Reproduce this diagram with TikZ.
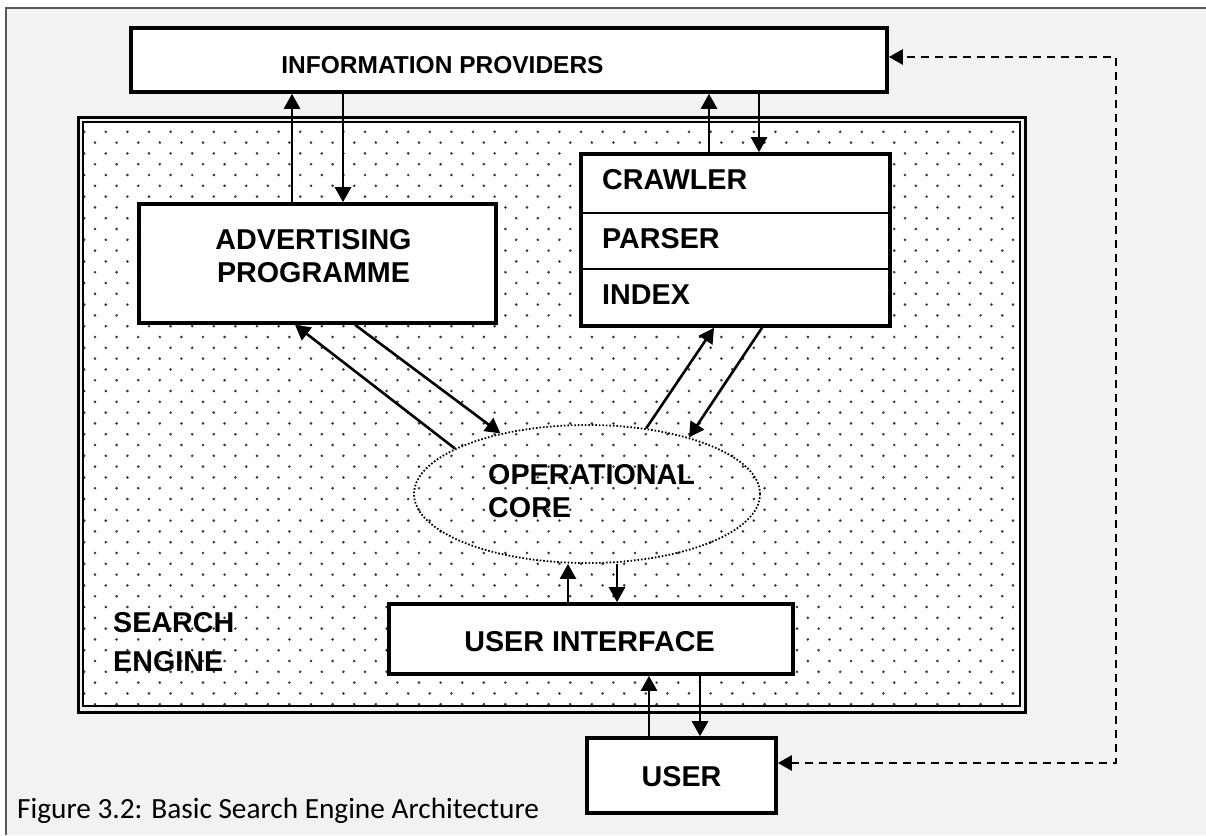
\documentclass[tikz,border=0pt]{standalone}
\usepackage{fontspec}
\setmainfont{Liberation Sans}
\newfontfamily\capfont{Carlito}
\usetikzlibrary{arrows.meta,shapes.geometric}
\definecolor{bgray}{HTML}{F2F2F2}
\definecolor{framec}{HTML}{595959}
\definecolor{dotc}{HTML}{3A3A3A}
\begin{document}
\begin{tikzpicture}[x=1pt,y=-1pt,
  box/.style={draw, line width=3.6pt, fill=white, inner sep=0pt},
  lab/.style={font=\bfseries\fontsize{28.7}{33}\selectfont, inner sep=0pt},
  arr/.style={line width=2.6pt, -{Triangle[length=15pt,width=16pt]}},
  dashline/.style={line width=2.4pt, dash pattern=on 8pt off 6pt, {Triangle[length=14pt,width=15pt]}-{Triangle[length=14pt,width=15pt]}},
  corestyle/.style={draw, ellipse, line width=1.8pt, dash pattern=on 1.6pt off 1.9pt, inner sep=0pt},
]
\useasboundingbox (0,0) rectangle (1206,835);
% page background and outer frame
\fill[white] (0,0) rectangle (1206,835);
\fill[bgray] (6,8) rectangle (1206,835);
\draw[framec, line width=1.8pt] (6,835) -- (6,8) -- (1206,8);

% search engine area
\fill[white] (83,122) rectangle (1020,706);
\begin{scope}
  \clip (83,122) rectangle (1020,706);
  \foreach \k in {0,...,54} {
    \pgfmathsetmacro\yy{121+10.8*\k}
    \pgfmathsetmacro\xo{mod(\k,2)==0 ? 95 : 84.2}
    \foreach \j in {0,...,43} {
      \fill[dotc] (\xo+21.6*\j,\yy) circle (1.45pt);
    }
  }
\end{scope}
\draw[line width=3pt] (78,117) rectangle (1025,712);
\draw[line width=2pt] (83,122) rectangle (1020,706);

% boxes
\node[box, minimum width=756pt, minimum height=64pt] (info) at (509,60) {};
\node[lab, font=\bfseries\fontsize{24.5}{28}\selectfont] (infot) at (442.5,65) {INFORMATION PROVIDERS};

\node[box, minimum width=357pt, minimum height=119pt] (adv) at (317.5,263.5) {};
\node[lab, align=center] (advt) at (313.5,256.5) {ADVERTISING\\PROGRAMME};

\node[box, minimum width=309pt, minimum height=172pt] (crawl) at (735.5,240) {};
\draw[line width=2pt, shorten <=1.8pt, shorten >=1.8pt] (crawl.west |- 0,213) -- (crawl.east |- 0,213);
\draw[line width=2pt, shorten <=1.8pt, shorten >=1.8pt] (crawl.west |- 0,269) -- (crawl.east |- 0,269);
\node[lab, anchor=west] (crt) at (602,180) {CRAWLER};
\node[lab, anchor=west] (pat) at (602,239) {PARSER};
\node[lab, anchor=west] (ixt) at (602,295) {INDEX};

\node[corestyle, minimum width=346pt, minimum height=138pt] (core) at (587,494) {};
\node[lab, anchor=west, align=left] (coret) at (488,491.5) {OPERATIONAL\\CORE};

\node[lab, anchor=west, align=left, font=\bfseries\fontsize{28.7}{39}\selectfont] (set) at (113,642) {SEARCH\\ENGINE};

\node[box, minimum width=404pt, minimum height=70pt] (ui) at (591,639) {};
\node[lab] (uit) at (589.5,642) {USER INTERFACE};

\node[box, minimum width=189pt, minimum height=75pt] (user) at (681.5,775.5) {};
\node[lab] (usert) at (681.5,777) {USER};

\node[anchor=base west, inner sep=0pt, font=\capfont\fontsize{29.3}{33}\selectfont] (cap) at (17,818) {Figure 3.2: Basic Search Engine Architecture};

% connectors
\draw[arr] (adv.north -| 292,0) -- (info.south -| 292,0);
\draw[arr] (info.south -| 343,0) -- (adv.north -| 343,0);
\draw[arr] (crawl.north -| 709,0) -- (info.south -| 709,0);
\draw[arr] (info.south -| 759,0) -- (crawl.north -| 759,0);

\draw[arr] (core.161) -- (adv.south -| 295,0);
\draw[arr] (adv.south -| 355,0) -- (core.145);
\draw[arr] (core.48) -- (crawl.south -| 714,0);
\draw[arr] (crawl.south -| 762,0) -- (core.29);

\draw[arr] (ui.north -| 568,0) -- (core.south -| 568,0);
\draw[arr] (core.south -| 617,0) -- (ui.north -| 617,0);
\draw[arr] (user.north -| 649,0) -- (ui.south -| 649,0);
\draw[arr] (ui.south -| 700,0) -- (user.north -| 700,0);

\coordinate (dtop) at (1116,57);
\coordinate (dbot) at (1116,763);
\draw[dashline] (user.east |- dbot) -- (dbot) -- (dtop) -- (info.east |- dtop);
\end{tikzpicture}
\end{document}
